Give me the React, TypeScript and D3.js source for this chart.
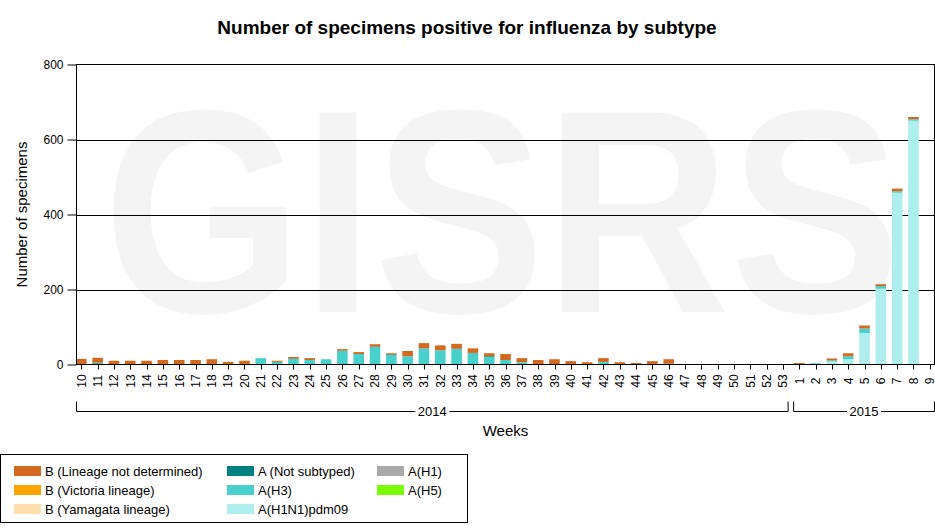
import { useEffect, useRef } from 'react';
import * as d3 from 'd3';

// Week labels (2014 weeks 10-53, then 2015 weeks 1-9)
const weeks = [
  '10', '11', '12', '13', '14', '15', '16', '17', '18', '19', '20', '21', '22', '23', '24',
  '25', '26', '27', '28', '29', '30', '31', '32', '33', '34', '35', '36', '37', '38', '39',
  '40', '41', '42', '43', '44', '45', '46', '47', '48', '49', '50', '51', '52', '53',
  '1', '2', '3', '4', '5', '6', '7', '8', '9',
];

const yearGroups = [
  { label: '2014', first: 0, last: 43 },
  { label: '2015', first: 44, last: 52 },
];

const yTicks = [0, 200, 400, 600, 800];

// Series values, one per week
const bLineageND = [
  15, 13, 10, 10, 10, 12, 12, 12, 14, 7, 10, 0, 3, 4, 5,
  0, 4, 5, 6, 3, 14, 14, 13, 13, 12, 8, 16, 11, 11, 13,
  9, 6, 10, 6, 4, 8, 12, 1, 1, 1, 1, 0, 1, 0,
  4, 0, 5, 8, 8, 5, 7, 6, 0,
];
const bVictoria = new Array(53).fill(0);
const bYamagata = new Array(53).fill(0);
const aNotSubtyped = [
  0, 2, 0, 0, 0, 0, 0, 0, 0, 0, 0, 0, 1, 2, 0,
  0, 1, 0, 2, 2, 0, 0, 0, 1, 1, 2, 0, 0, 0, 0,
  0, 0, 0, 0, 0, 0, 0, 0, 0, 0, 0, 0, 0, 0,
  0, 0, 0, 0, 0, 0, 0, 0, 0,
];
const aH3 = [
  0, 3, 0, 0, 0, 0, 0, 0, 0, 0, 0, 17, 6, 14, 12,
  14, 36, 28, 46, 25, 22, 43, 38, 41, 30, 20, 12, 6, 1, 1,
  0, 0, 7, 0, 0, 1, 2, 0, 0, 0, 0, 0, 0, 0,
  0, 2, 3, 8, 12, 7, 4, 4, 0,
];
const aH1N1pdm09 = [
  0, 0, 0, 0, 0, 0, 0, 0, 0, 0, 0, 0, 0, 0, 0,
  0, 0, 0, 0, 0, 0, 0, 0, 0, 0, 0, 0, 0, 0, 0,
  0, 0, 0, 0, 0, 0, 0, 0, 0, 0, 0, 0, 0, 0,
  0, 2, 8, 14, 84, 202, 458, 650, 0,
];
const aH1 = new Array(53).fill(0);
const aH5 = new Array(53).fill(0);

// Stacking order, bottom to top
const series = [
  { key: 'aH5', name: 'A(H5)', color: '#7cfc00', values: aH5 },
  { key: 'aH1', name: 'A(H1)', color: '#a9a9a9', values: aH1 },
  { key: 'aH1N1pdm09', name: 'A(H1N1)pdm09', color: '#afeeee', values: aH1N1pdm09 },
  { key: 'aH3', name: 'A(H3)', color: '#48d1cc', values: aH3 },
  { key: 'aNotSubtyped', name: 'A (Not subtyped)', color: '#008080', values: aNotSubtyped },
  { key: 'bYamagata', name: 'B (Yamagata lineage)', color: '#ffdead', values: bYamagata },
  { key: 'bVictoria', name: 'B (Victoria lineage)', color: '#ffa500', values: bVictoria },
  { key: 'bLineageND', name: 'B (Lineage not determined)', color: '#d2691e', values: bLineageND },
];

// Legend, column by column
const legendColumns = [
  ['bLineageND', 'bVictoria', 'bYamagata'],
  ['aNotSubtyped', 'aH3', 'aH1N1pdm09'],
  ['aH1', 'aH5'],
];

const FONT = '"Liberation Sans", Arial, sans-serif';

const Chart = () => {
  const svgRef = useRef<SVGSVGElement>(null);

  useEffect(() => {
    if (!svgRef.current) return;
    const svg = d3.select(svgRef.current);
    svg.selectAll('*').remove();

    const left = 76.5, right = 934.5, top = 64.5, bottom = 364.5;

    const x = d3.scalePoint<number>()
      .domain(d3.range(weeks.length))
      .range([81.3, 929.8]);
    const step = x.step();
    const barW = 10.6;

    const y = d3.scaleLinear().domain([0, 800]).range([bottom, top]);

    svg.append('rect').attr('width', 935).attr('height', 529).attr('fill', '#fff');

    // Title
    svg.append('text')
      .attr('x', 467).attr('y', 34)
      .attr('text-anchor', 'middle')
      .style('font', `bold 19px ${FONT}`)
      .text('Number of specimens positive for influenza by subtype');

    // Watermark
    svg.append('text')
      .attr('x', 103).attr('y', 312)
      .attr('textLength', 798)
      .attr('lengthAdjust', 'spacingAndGlyphs')
      .attr('fill', '#f4f4f4')
      .style('font', `bold 290px ${FONT}`)
      .text('GISRS');

    // Grid
    svg.append('g')
      .selectAll('line')
      .data(yTicks.filter(t => t > 0 && t < 800))
      .enter()
      .append('line')
      .attr('x1', left).attr('x2', right)
      .attr('y1', d => Math.round(y(d)) + 0.5).attr('y2', d => Math.round(y(d)) + 0.5)
      .attr('stroke', '#000');

    // Stacked bars
    const table = weeks.map((_, i) => {
      const row: Record<string, number> = { i };
      series.forEach(s => { row[s.key] = s.values[i]; });
      return row;
    });
    const stacked = d3.stack<Record<string, number>>().keys(series.map(s => s.key))(table);

    stacked.forEach((layer, li) => {
      svg.append('g')
        .attr('fill', series[li].color)
        .selectAll('rect')
        .data(layer.filter(d => d[1] > d[0]))
        .enter()
        .append('rect')
        .attr('x', d => (x(d.data.i) as number) - barW / 2)
        .attr('width', barW)
        .attr('y', d => y(d[1]))
        .attr('height', d => y(d[0]) - y(d[1]));
    });

    // Plot frame
    svg.append('rect')
      .attr('x', left).attr('y', top)
      .attr('width', right - left).attr('height', bottom - top)
      .attr('fill', 'none').attr('stroke', '#000');

    // Y axis
    const yAxis = svg.append('g').attr('transform', `translate(${left},0)`)
      .call(d3.axisLeft(y).tickValues(yTicks).tickSize(9).tickPadding(4).tickFormat(d => String(d)));
    yAxis.select('.domain').remove();
    yAxis.selectAll('text').style('font', `12px ${FONT}`).attr('fill', '#000');
    yAxis.selectAll('line').attr('stroke', '#000');

    // X axis ticks and rotated week labels
    const xg = svg.append('g');
    xg.selectAll('line')
      .data(d3.range(weeks.length))
      .enter()
      .append('line')
      .attr('x1', d => Math.round(x(d) as number) + 0.5)
      .attr('x2', d => Math.round(x(d) as number) + 0.5)
      .attr('y1', bottom).attr('y2', bottom + 5)
      .attr('stroke', '#000');
    xg.selectAll('text')
      .data(d3.range(weeks.length))
      .enter()
      .append('text')
      .attr('transform', d => `translate(${(x(d) as number) + 4.3},381) rotate(-90)`)
      .attr('text-anchor', 'middle')
      .style('font', `12px ${FONT}`)
      .text(d => weeks[d]);

    // Year brackets
    const by = 411.5;
    yearGroups.forEach(g => {
      const x0 = g.first === 0 ? left : (x(g.first) as number) - step / 2 + 2.5;
      const x1 = g.last === weeks.length - 1 ? right : (x(g.last) as number) + step / 2 - 3;
      const cx = (x0 + x1) / 2;
      const half = 17;
      xg.append('path')
        .attr('d', `M${x0},${by - 10}V${by}H${cx - half}M${cx + half},${by}H${x1}V${by - 10}`)
        .attr('fill', 'none').attr('stroke', '#000');
      xg.append('text')
        .attr('x', cx).attr('y', by + 4.5)
        .attr('text-anchor', 'middle')
        .style('font', `13px ${FONT}`)
        .text(g.label);
    });

    // Axis titles
    svg.append('text')
      .attr('x', (left + right) / 2).attr('y', 436)
      .attr('text-anchor', 'middle')
      .style('font', `15px ${FONT}`)
      .text('Weeks');
    svg.append('text')
      .attr('transform', `translate(27,${(top + bottom) / 2}) rotate(-90)`)
      .attr('text-anchor', 'middle')
      .style('font', `15px ${FONT}`)
      .text('Number of specimens');

    // Legend
    const lg = svg.append('g');
    lg.append('rect')
      .attr('x', 0.5).attr('y', 454.5)
      .attr('width', 467).attr('height', 68)
      .attr('fill', '#fff').attr('stroke', '#000');
    const colX = [14, 227, 377];
    const rowY = [466, 485, 504];
    legendColumns.forEach((col, ci) => {
      col.forEach((key, ri) => {
        const s = series.find(d => d.key === key)!;
        lg.append('rect')
          .attr('x', colX[ci]).attr('y', rowY[ri])
          .attr('width', 27).attr('height', 10)
          .attr('fill', s.color);
        lg.append('text')
          .attr('x', colX[ci] + 31).attr('y', rowY[ri] + 9.5)
          .style('font', `13px ${FONT}`)
          .text(s.name);
      });
    });
  }, []);

  return (
    <svg
      ref={svgRef}
      width={935}
      height={529}
      style={{ position: 'absolute', left: 0, top: 0, display: 'block' }}
    />
  );
};

export default function App() {
  return <Chart />;
}
